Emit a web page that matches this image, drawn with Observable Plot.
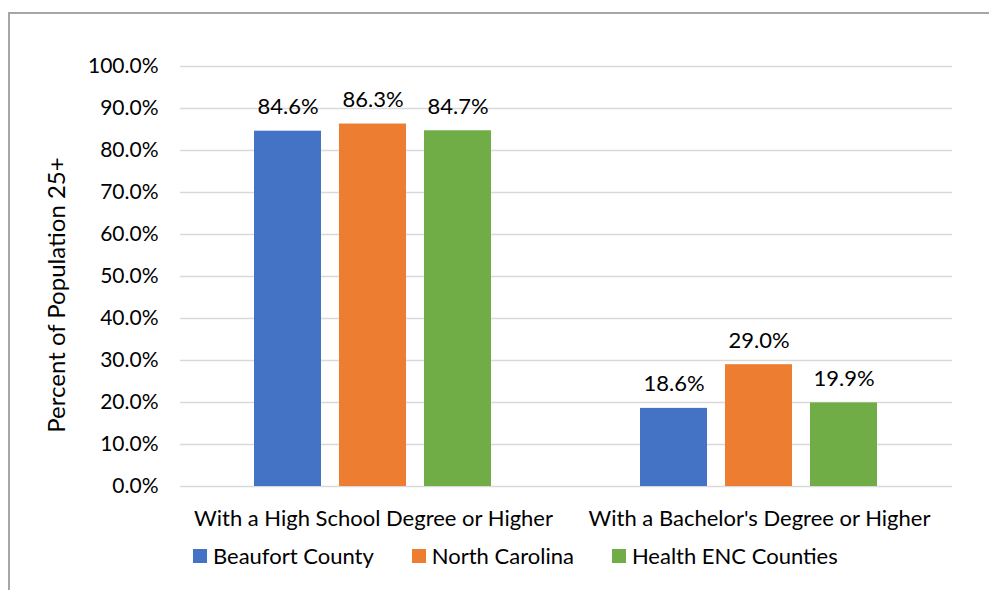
<!DOCTYPE html>
<html>
<head>
<meta charset="utf-8">
<script src="https://cdn.jsdelivr.net/npm/d3@7"></script>
<script src="https://cdn.jsdelivr.net/npm/@observablehq/plot@0.6"></script>
<style>
  html, body { margin: 0; padding: 0; background: #fff; }
  body { width: 989px; height: 590px; position: relative; overflow: hidden; font-family: Lato, "Open Sans", sans-serif; color: #000; }
  #chart { position: absolute; left: 0; top: 0; }
  #frame { position: absolute; left: 8px; top: 12px; width: 1100px; height: 700px; border-top: 2px solid #a6a6a6; border-left: 2px solid #a6a6a6; pointer-events: none; }
  #ytitle { position: absolute; left: 55px; top: 295px; transform: translate(-50%, -50%) rotate(-90deg); white-space: nowrap; font-size: 24px; }
  #legend { position: absolute; left: 193px; top: 542px; display: flex; align-items: center; font-size: 22px; }
  .item { display: flex; align-items: center; margin-right: 38px; }
  .sw { width: 14px; height: 14px; margin-right: 6px; }
</style>
</head>
<body>
<div id="chart"></div>
<div id="ytitle"></div>
<div id="legend"></div>
<div id="frame"></div>
<script>
const categories = ["With a High School Degree or Higher", "With a Bachelor's Degree or Higher"];
const seriesNames = ["Beaufort County", "North Carolina", "Health ENC Counties"];
const seriesColors = ["#4472C4", "#ED7D31", "#70AD47"];
const beaufort = [84.6, 18.6];
const northCarolina = [86.3, 29.0];
const healthENC = [84.7, 19.9];
const yTicks = [0, 10, 20, 30, 40, 50, 60, 70, 80, 90, 100];
const yTitle = "Percent of Population 25+";

const seriesValues = [beaufort, northCarolina, healthENC];
const data = [];
categories.forEach((c, i) => {
  seriesNames.forEach((s, j) => {
    data.push({category: c, series: s, value: seriesValues[j][i]});
  });
});

const chart = Plot.plot({
  width: 989,
  height: 535,
  marginTop: 66,
  marginBottom: 49,
  marginLeft: 180,
  marginRight: 37,
  style: {fontFamily: "Lato, 'Open Sans', sans-serif", fontSize: "22px", color: "#000", background: "transparent"},
  fx: {domain: categories, paddingInner: 0, paddingOuter: 0, label: null, axis: "bottom", tickSize: 0, tickPadding: 24},
  x: {domain: seriesNames, paddingInner: 0.209, paddingOuter: 0.849, axis: null},
  y: {domain: [0, 100], axis: null},
  color: {domain: seriesNames, range: seriesColors},
  marks: [
    Plot.gridY(yTicks, {stroke: "#d9d9d9", strokeOpacity: 1, strokeWidth: 1.5}),
    Plot.axisY(yTicks, {tickFormat: d => d.toFixed(1) + "%", tickSize: 0, tickPadding: 22, fontSize: 21, label: null, facetAnchor: "left"}),
    Plot.barY(data, {fx: "category", x: "series", y: "value", fill: "series"}),
    Plot.text(data, {fx: "category", x: "series", y: "value", text: d => d.value.toFixed(1) + "%", lineAnchor: "bottom", dy: -17, fill: "#000", fontSize: 22})
  ]
});
document.getElementById("chart").appendChild(chart);
document.getElementById("ytitle").textContent = yTitle;

const legend = document.getElementById("legend");
seriesNames.forEach((s, j) => {
  const item = document.createElement("div");
  item.className = "item";
  const sw = document.createElement("div");
  sw.className = "sw";
  sw.style.background = seriesColors[j];
  const t = document.createElement("span");
  t.textContent = s;
  item.appendChild(sw);
  item.appendChild(t);
  legend.appendChild(item);
});
</script>
</body>
</html>
